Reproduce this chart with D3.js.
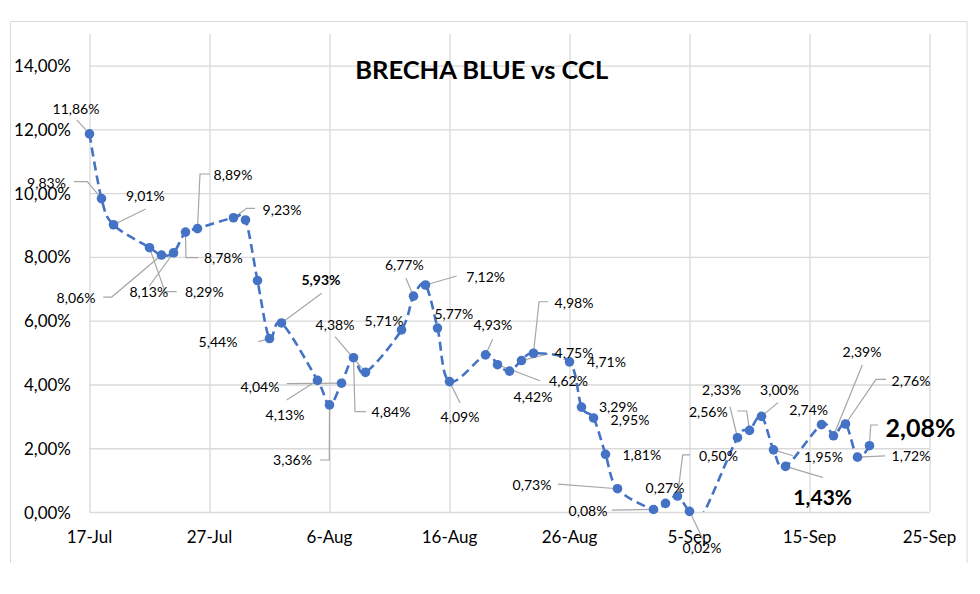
<!DOCTYPE html>
<html>
<head>
<meta charset="utf-8">
<script src="https://cdn.jsdelivr.net/npm/d3@7"></script>
<style>
  html, body { margin: 0; padding: 0; background: #fff; }
  svg { display: block; font-family: Lato, "Open Sans", sans-serif; }
</style>
</head>
<body>
<svg id="chart" width="980" height="594"></svg>
<script>
// ---------- data ----------
const title = "BRECHA BLUE vs CCL";
const dates = [
  "2024-07-17","2024-07-18","2024-07-19","2024-07-22","2024-07-23","2024-07-24","2024-07-25","2024-07-26",
  "2024-07-29","2024-07-30","2024-07-31","2024-08-01","2024-08-02","2024-08-05","2024-08-06","2024-08-07",
  "2024-08-08","2024-08-09","2024-08-12","2024-08-13","2024-08-14","2024-08-15","2024-08-16","2024-08-19",
  "2024-08-20","2024-08-21","2024-08-22","2024-08-23","2024-08-26","2024-08-27","2024-08-28","2024-08-29",
  "2024-08-30","2024-09-02","2024-09-03","2024-09-04","2024-09-05","2024-09-06","2024-09-09","2024-09-10",
  "2024-09-11","2024-09-12","2024-09-13","2024-09-16","2024-09-17","2024-09-18","2024-09-19","2024-09-20"
];
const brecha = [
  11.86, 9.83, 9.01, 8.29, 8.06, 8.13, 8.78, 8.89,
  9.23, 9.16, 7.26, 5.44, 5.93, 4.13, 3.36, 4.04,
  4.84, 4.38, 5.71, 6.77, 7.12, 5.77, 4.09, 4.93,
  4.62, 4.42, 4.75, 4.98, 4.71, 3.29, 2.95, 1.81,
  0.73, 0.08, 0.27, 0.50, 0.02, -0.15, 2.33, 2.56,
  3.00, 1.95, 1.43, 2.74, 2.39, 2.76, 1.72, 2.08
];
const yTicks = [0, 2, 4, 6, 8, 10, 12, 14];
const xTickDates = ["2024-07-17","2024-07-27","2024-08-06","2024-08-16","2024-08-26","2024-09-05","2024-09-15","2024-09-25"];

// ---------- label layout (pixel offsets from the point) ----------
const labelLayout = {
  "2024-07-17": {dx:-13.5, dy:-25,   leader:[[-12.8,-14]]},
  "2024-07-18": {dx:-55,   dy:-16,   leader:[[-14.2,-17],[-27.5,-17]]},
  "2024-07-19": {dx:31.8,  dy:-28.8, leader:[[32.2,-15.8]]},
  "2024-07-22": {dx:54.8,  dy:44,    leader:[[15.5,44],[27.2,44]]},
  "2024-07-23": {dx:-85.5, dy:42.3,  leader:[[-49.8,42],[-58.2,42]]},
  "2024-07-24": {dx:-24.7, dy:38.9,  leader:[[-24.2,33.2]]},
  "2024-07-25": {dx:37.8,  dy:25.6,  leader:[[0.5,25.6],[12.8,25.6]]},
  "2024-07-26": {dx:35.5,  dy:-53.6, leader:[[2.5,-54.6],[12.5,-54.6]]},
  "2024-07-29": {dx:48.5,  dy:-8.7,  leader:[[13.2,-9.4],[21.5,-9.4]]},
  "2024-08-01": {dx:-51.5, dy:3.1,   leader:[[-11.2,3.1]]},
  "2024-08-02": {dx:39.5,  dy:-43.6, leader:[[40.2,-29.6]], bold:true},
  "2024-08-05": {dx:-32.5, dy:34,    leader:[[-30.8,19.7]]},
  "2024-08-06": {dx:-37,   dy:55.1,  leader:[[-0.2,55.1],[-9.5,55.1]]},
  "2024-08-07": {dx:-81.5, dy:2.8,   leader:[[-54.8,0.5]]},
  "2024-08-08": {dx:37.5,  dy:54,    leader:[[1.5,54],[12.5,54]]},
  "2024-08-09": {dx:-30.5, dy:-47.4, leader:[[-30.5,-35.7]]},
  "2024-08-12": {dx:-17.5, dy:-9.3},
  "2024-08-13": {dx:-9.2,  dy:-31.2, leader:[[-7.5,-17.9]]},
  "2024-08-14": {dx:60.2,  dy:-8.3,  leader:[[31.2,-9]]},
  "2024-08-15": {dx:16.3,  dy:-14.7},
  "2024-08-16": {dx:10.5,  dy:34.4,  leader:[[10.5,21.1]]},
  "2024-08-19": {dx:7.3,   dy:-30.5, leader:[[7.2,-15.5]]},
  "2024-08-20": {dx:71,    dy:16,    leader:[[42.5,16]]},
  "2024-08-21": {dx:23.5,  dy:25.6},
  "2024-08-22": {dx:52.5,  dy:-7.6,  leader:[[26.5,-6.6]]},
  "2024-08-23": {dx:40.5,  dy:-51.2, leader:[[5.5,-51.5],[14.8,-51.5]]},
  "2024-08-26": {dx:37,    dy:0},
  "2024-08-27": {dx:36.8,  dy:-0.4},
  "2024-08-28": {dx:36.5,  dy:1.3},
  "2024-08-29": {dx:36.3,  dy:0.7},
  "2024-08-30": {dx:-85.5, dy:-4.7,  leader:[[-59.5,-4.7]]},
  "2024-09-02": {dx:-65.5, dy:0.6,   leader:[[-41.5,0.6]]},
  "2024-09-03": {dx:-0.5,  dy:-16.1},
  "2024-09-04": {dx:41,    dy:-40.1, leader:[[5.2,-41.1],[12.5,-41.1]]},
  "2024-09-05": {dx:12.5,  dy:36.6,  leader:[[13.8,28.6]]},
  "2024-09-09": {dx:-16,   dy:-48.4, leader:[[-7.5,-31]]},
  "2024-09-10": {dx:-41.2, dy:-18.7, leader:[[-2.8,-19.4],[-12.2,-19.4]]},
  "2024-09-11": {dx:18,    dy:-27.1, leader:[[16.5,-13.7]]},
  "2024-09-12": {dx:50,    dy:6.9,   leader:[[19.5,5.9]]},
  "2024-09-13": {dx:37.2,  dy:30.3,  leader:[[37.2,10.9]], big:21},
  "2024-09-16": {dx:-12.8, dy:-15.3},
  "2024-09-17": {dx:28.5,  dy:-84.1, leader:[[28.8,-70.8]]},
  "2024-09-18": {dx:65.5,  dy:-44,   leader:[[30.5,-44.7],[40.5,-44.7]]},
  "2024-09-19": {dx:53.5,  dy:-1.2,  leader:[[27.5,-1.2]]},
  "2024-09-20": {dx:51,    dy:-19,   leader:[[1.2,-20.7],[8.5,-20.7]], big:25}
};

// ---------- setup ----------
const parse = d3.timeParse("%Y-%m-%d");
const series = dates.map((d, i) => ({key: d, date: parse(d), v: brecha[i]}));
const fmtPct = v => d3.format(".2f")(v).replace(".", ",") + "%";
const fmtDate = d => d3.timeFormat("%-d")(d) + "-" + d3.timeFormat("%b")(d);

const svg = d3.select("#chart");
const plot = {left: 89.5, right: 929.5, top: 33.8, bottom: 512};

const x = d3.scaleTime()
  .domain([parse(xTickDates[0]), parse(xTickDates[xTickDates.length - 1])])
  .range([plot.left, plot.right]);
const y = d3.scaleLinear().domain([0, 15]).range([plot.bottom, plot.top]);

const blue = "#4472C4";
const grid = "#d9d9d9";

// outer chart frame
svg.append("path")
  .attr("d", `M10.5,563 V21.5 H967 V563`)
  .attr("fill", "none").attr("stroke", grid).attr("stroke-width", 1);

// gridlines
const gy = svg.append("g")
  .attr("transform", `translate(${plot.left},0)`)
  .call(d3.axisLeft(y).tickValues(yTicks).tickSize(-(plot.right - plot.left)).tickFormat(""));
gy.select(".domain").remove();
gy.selectAll(".tick line").attr("stroke", grid).attr("stroke-width", 1.3);

const gx = svg.append("g")
  .attr("transform", `translate(0,${plot.bottom})`)
  .call(d3.axisBottom(x).tickValues(xTickDates.map(parse)).tickSize(-(plot.bottom - plot.top)).tickFormat(""));
gx.select(".domain").remove();
gx.selectAll(".tick line").attr("stroke", grid).attr("stroke-width", 1.3);

// axis labels
svg.append("g").selectAll("text").data(yTicks).join("text")
  .attr("x", 71).attr("y", d => y(d))
  .attr("text-anchor", "end").attr("dominant-baseline", "central")
  .attr("font-size", 17).attr("fill", "#000")
  .text(d => d3.format(".2f")(d).replace(".", ",") + "%");

svg.append("g").selectAll("text").data(xTickDates.map(parse)).join("text")
  .attr("x", d => x(d)).attr("y", 543)
  .attr("text-anchor", "middle")
  .attr("font-size", 17).attr("fill", "#000")
  .text(fmtDate);

// title
svg.append("text")
  .attr("x", 481.7).attr("y", 78.5)
  .attr("text-anchor", "middle")
  .attr("font-size", 25.5).attr("font-weight", "bold").attr("fill", "#000")
  .text(title);

// clip
svg.append("clipPath").attr("id", "plotclip")
  .append("rect").attr("x", plot.left - 6).attr("y", plot.top)
  .attr("width", plot.right - plot.left + 12).attr("height", plot.bottom - plot.top);

// leader lines
const labeled = series.filter(d => labelLayout[d.key]);
svg.append("g").selectAll("path").data(labeled.filter(d => labelLayout[d.key].leader)).join("path")
  .attr("d", d => {
    const px = x(d.date), py = y(d.v);
    const pts = [[px, py]].concat(labelLayout[d.key].leader.map(p => [px + p[0], py + p[1]]));
    return d3.line()(pts);
  })
  .attr("fill", "none").attr("stroke", "#a6a6a6").attr("stroke-width", 1.2);

// line + markers
const gLine = svg.append("g").attr("clip-path", "url(#plotclip)");
gLine.append("path")
  .datum(series)
  .attr("d", d3.line().x(d => x(d.date)).y(d => y(d.v)).curve(d3.curveCatmullRom.alpha(0)))
  .attr("fill", "none").attr("stroke", blue).attr("stroke-width", 2.6)
  .attr("stroke-dasharray", "9,5");

svg.append("g").selectAll("circle").data(series.filter(d => d.v >= 0)).join("circle")
  .attr("cx", d => x(d.date)).attr("cy", d => y(d.v)).attr("r", 4.8)
  .attr("fill", blue);

// data labels
svg.append("g").selectAll("text").data(labeled).join("text")
  .attr("x", d => x(d.date) + labelLayout[d.key].dx)
  .attr("y", d => y(d.v) + labelLayout[d.key].dy)
  .attr("text-anchor", "middle").attr("dominant-baseline", "central")
  .attr("font-size", d => labelLayout[d.key].big || 14)
  .attr("font-weight", d => (labelLayout[d.key].big || labelLayout[d.key].bold) ? "bold" : "normal")
  .attr("fill", "#000")
  .text(d => fmtPct(d.v));
</script>
</body>
</html>
